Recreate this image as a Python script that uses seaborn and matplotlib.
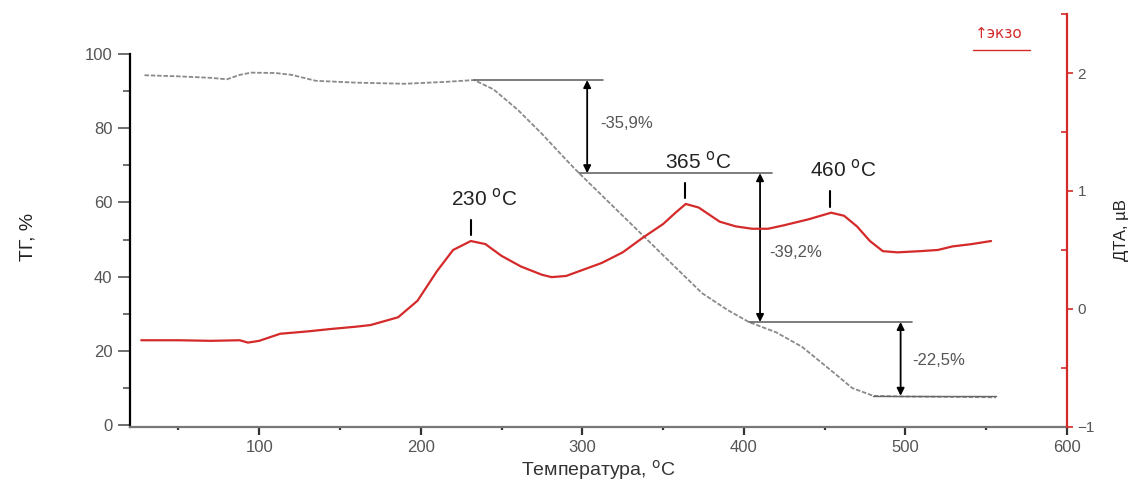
import matplotlib
matplotlib.use("Agg")
import matplotlib.pyplot as plt
import seaborn as sns
import pandas as pd
from matplotlib.ticker import MultipleLocator, FixedLocator

# ТГ (термогравиметрия), %
tg_temp = [29, 50, 70, 80, 88, 95, 110, 120, 135, 160, 190, 215, 233, 245, 260,
           275, 290, 298, 310, 330, 353, 374, 390, 403, 420, 436, 456, 467, 480,
           500, 530, 556]
tg_val = [94.3, 94.0, 93.6, 93.2, 94.4, 95.0, 94.9, 94.4, 92.8, 92.3, 92.0, 92.5,
          93.0, 90.5, 85.0, 78.5, 71.5, 67.9, 62.8, 54.3, 44.5, 35.6, 31.0, 27.8,
          25.0, 21.1, 14.0, 10.0, 7.9, 7.7, 7.6, 7.5]

# ДТА, мкВ
dta_temp = [27, 50, 70, 88, 93, 100, 113, 130, 144, 160, 169, 186, 198, 210, 220,
            231, 240, 250, 262, 275, 281, 290, 300, 312, 325, 337, 350, 358, 364,
            372, 385, 395, 405, 415, 425, 440, 454, 462, 470, 478, 486, 495, 509,
            520, 529, 541, 553]
dta_val = [-0.265, -0.265, -0.27, -0.265, -0.285, -0.27, -0.21, -0.19, -0.17,
           -0.15, -0.136, -0.07, 0.07, 0.32, 0.5, 0.576, 0.55, 0.45, 0.36, 0.29,
           0.27, 0.28, 0.33, 0.39, 0.48, 0.6, 0.72, 0.82, 0.89, 0.86, 0.74, 0.70,
           0.68, 0.68, 0.71, 0.76, 0.816, 0.79, 0.70, 0.576, 0.49, 0.48, 0.49,
           0.5, 0.53, 0.55, 0.576]

# пики ДТА: подпись, температура метки, значение
peak_labels = ["230", "365", "460"]
peak_x = [231, 363.5, 453.6]
peak_y = [0.576, 0.89, 0.816]

# ступени потери массы: уровни ТГ, x-начало/конец линий, x стрелок, подписи
step_levels = [93.0, 67.9, 27.8, 7.9]
step_line_x0 = [233, 298, 403]
step_line_x1 = [313, 417.5, 504]
step_arrow_x = [303, 410, 497]
step_labels = ["-35,9%", "-39,2%", "-22,5%"]

df_tg = pd.DataFrame({"T": tg_temp, "TG": tg_val})
df_dta = pd.DataFrame({"T": dta_temp, "DTA": dta_val})

sns.set_theme(style="white")
plt.rcParams["font.family"] = ["Liberation Sans", "DejaVu Sans"]

fig = plt.figure(figsize=(11.32, 4.83), dpi=100)
ax = fig.add_axes([0.1148, 0.116, 0.8278, 0.855])
ax2 = ax.twinx()

red = "#d42a2a"
grey_txt = "#555555"

sns.lineplot(data=df_tg, x="T", y="TG", ax=ax, color="#8a8a8a", lw=1.3,
             linestyle=(0, (2.5, 1)))
sns.lineplot(data=df_dta, x="T", y="DTA", ax=ax2, color=red, lw=1.6)

ax.set_xlim(20, 600)
ax.set_ylim(-0.5, 110.8)
ax2.set_ylim(-1, 2.5)

# ступени
for i in range(3):
    y0 = step_levels[i]
    y1 = step_levels[i + 1]
    ax.plot([step_line_x0[i], step_line_x1[i]], [y0, y0], color="#666666", lw=1.2)
    ax.annotate("", xy=(step_arrow_x[i], y1), xytext=(step_arrow_x[i], y0),
                arrowprops=dict(arrowstyle="<|-|>", color="black", lw=1.3,
                                mutation_scale=11, shrinkA=0, shrinkB=0))
ax.plot([480, 556], [step_levels[3], step_levels[3]], color="#666666", lw=1.0)

ax.text(311, 81.4, step_labels[0], color=grey_txt, fontsize=12, va="center")
ax.text(416, 46.5, step_labels[1], color=grey_txt, fontsize=12, va="center")
ax.text(504, 17.5, step_labels[2], color=grey_txt, fontsize=12, va="center")

# пики
for lab, px, py in zip(peak_labels, peak_x, peak_y):
    ax2.plot([px, px], [py + 0.05, py + 0.18], color="black", lw=1.5)
    ax2.text(px + 8, py + 0.27, lab + r" $^{\rm o}$C", fontsize=15,
             ha="center", va="bottom", color="#222222")

# оси
ax.spines["top"].set_visible(False)
ax2.spines["top"].set_visible(False)
ax.spines["right"].set_visible(False)
ax2.spines["left"].set_visible(False)
ax2.spines["bottom"].set_visible(False)
ax.spines["left"].set_bounds(-0.5, 100)
ax.spines["left"].set_color("black")
ax.spines["left"].set_linewidth(1.6)
ax.spines["bottom"].set_color("#777777")
ax.spines["bottom"].set_linewidth(1.6)
ax2.spines["right"].set_color(red)
ax2.spines["right"].set_linewidth(1.6)

ax.set_yticks([0, 20, 40, 60, 80, 100])
ax.yaxis.set_minor_locator(FixedLocator([10, 30, 50, 70, 90]))
ax.set_xticks([100, 200, 300, 400, 500, 600])
ax.xaxis.set_minor_locator(MultipleLocator(50))
ax.tick_params(axis="y", which="major", direction="out", length=9, width=1.2,
               color="#555555", labelsize=12, labelcolor=grey_txt, left=True)
ax.tick_params(axis="y", which="minor", direction="out", length=5, width=1.2,
               color="#555555", left=True)
ax.tick_params(axis="x", which="major", direction="out", length=6, width=1.6,
               color="#333333", labelsize=12, labelcolor=grey_txt, bottom=True)
ax.tick_params(axis="x", which="minor", direction="out", length=2.5, width=1.6,
               color="#333333", bottom=True)

ax2.set_yticks([-1, 0, 1, 2])
ax2.yaxis.set_minor_locator(MultipleLocator(0.5))
ax2.tick_params(axis="y", which="major", direction="out", length=4, width=1.2,
                color=red, labelsize=11, labelcolor=grey_txt, right=True)
ax2.tick_params(axis="y", which="minor", direction="in", length=4, width=1.2,
                color=red, right=True)

ax.set_xlabel("Температура, $^{\\rm o}$C", fontsize=14, color="#333333",
              labelpad=2)
ax.set_ylabel("ТГ, %", fontsize=14, color="#222222")
ax.yaxis.set_label_coords(-0.1, 0.46)
ax2.set_ylabel("ДТА, µВ", fontsize=12, color="#222222")
ax2.yaxis.set_label_coords(1.05, 0.477)

# ↑экзо
ax.text(0.927, 0.953, "↑экзо", transform=ax.transAxes, color=red, fontsize=11,
        ha="center", va="center", family=["DejaVu Sans"])
ax.plot([0.9, 0.96], [0.912, 0.912], transform=ax.transAxes, color=red,
        lw=1.0, clip_on=False)

fig.savefig("out.png", dpi=100)
